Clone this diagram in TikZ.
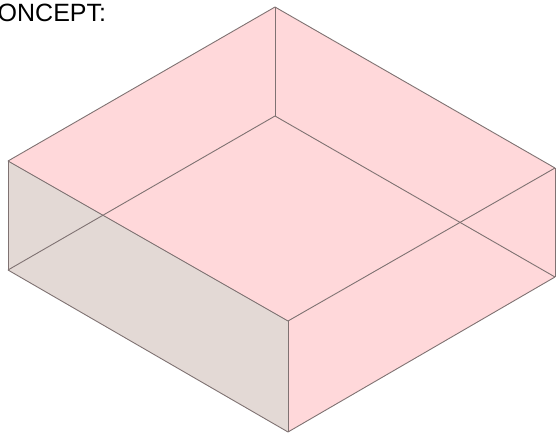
\documentclass[tikz,border=0pt]{standalone}
\usepackage{fontspec}
\setmainfont{Liberation Sans}
\pgfdeclarelayer{edgelayer}
\pgfdeclarelayer{nodelayer}
\pgfsetlayers{edgelayer,nodelayer,main}
\definecolor{facepink}{HTML}{FFD8DA}
\definecolor{facegrey}{HTML}{E3D9D5}
\definecolor{edgegrey}{HTML}{7F7272}
\tikzstyle{edge}=[draw=edgegrey, line width=0.9pt]
\tikzstyle{pinkface}=[fill=facepink]
\tikzstyle{greyface}=[fill=facegrey]
\tikzstyle{caption}=[anchor=base west, inner sep=0pt, font=\fontsize{25pt}{27pt}\selectfont, text=black]

\begin{document}
\begin{tikzpicture}[x=1pt, y=-1pt]
	\useasboundingbox (0, 0) rectangle (557, 436);
	\begin{pgfonlayer}{nodelayer}
		\coordinate (1) at (275, 7);
		\coordinate (2) at (8, 161);
		\coordinate (3) at (555, 168);
		\coordinate (4) at (288, 321);
		\coordinate (5) at (275, 116);
		\coordinate (6) at (8, 270);
		\coordinate (7) at (555, 277);
		\coordinate (8) at (288, 432);
		\node [style=caption] (9) at (-2.5, 21.5) {ONCEPT:};
	\end{pgfonlayer}
	\begin{pgfonlayer}{edgelayer}
		\fill [style=pinkface] (1) -- (3) -- (4) -- (2) -- cycle;
		\fill [style=pinkface] (4) -- (3) -- (7) -- (8) -- cycle;
		\fill [style=greyface] (2) -- (4) -- (8) -- (6) -- cycle;
	\end{pgfonlayer}
	\draw [style=edge] (1) to (2);
	\draw [style=edge] (1) to (3);
	\draw [style=edge] (1) to (5);
	\draw [style=edge] (2) to (4);
	\draw [style=edge] (3) to (4);
	\draw [style=edge] (2) to (6);
	\draw [style=edge] (3) to (7);
	\draw [style=edge] (4) to (8);
	\draw [style=edge] (5) to (6);
	\draw [style=edge] (5) to (7);
	\draw [style=edge] (6) to (8);
	\draw [style=edge] (7) to (8);
\end{tikzpicture}
\end{document}
